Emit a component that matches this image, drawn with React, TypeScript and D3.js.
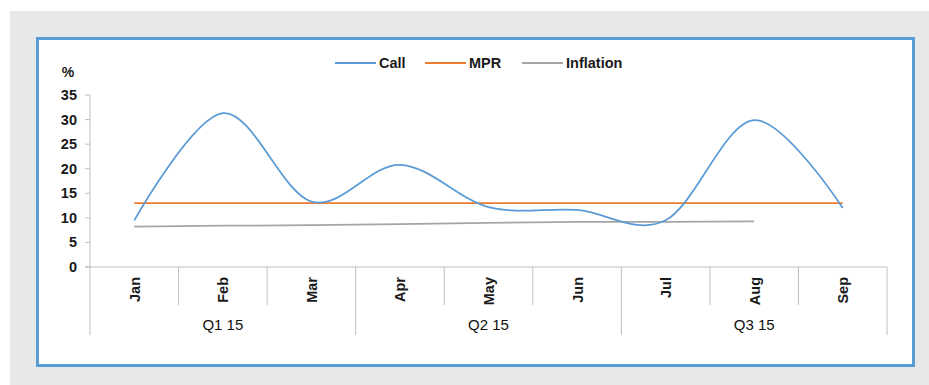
import React from "react";
import * as d3 from "d3";

const months = ["Jan", "Feb", "Mar", "Apr", "May", "Jun", "Jul", "Aug", "Sep"];
const quarters = ["Q1 15", "Q2 15", "Q3 15"];
const callRate = [9.5, 31.3, 13.3, 20.8, 12.2, 11.6, 9.5, 29.9, 12.0];
const mpr = [13, 13, 13, 13, 13, 13, 13, 13, 13];
const inflation = [8.2, 8.4, 8.5, 8.7, 9.0, 9.2, 9.2, 9.3];
const yTicks = [0, 5, 10, 15, 20, 25, 30, 35];
const seriesNames = ["Call", "MPR", "Inflation"];
const seriesColors = ["#5b9bd5", "#ed7d31", "#a5a5a5"];

export default function App() {
  const W = 929, H = 385;
  const x = d3.scaleBand<string>().domain(months).range([90, 887]);
  const y = d3.scaleLinear().domain([0, 35]).range([267, 95]);
  const cx = (i: number) => (x(months[i]) as number) + x.bandwidth() / 2;

  const smooth = d3
    .line<number>()
    .x((_, i) => cx(i))
    .y((d) => y(d))
    .curve(d3.curveCardinal.tension(0));
  const straight = d3
    .line<number>()
    .x((_, i) => cx(i))
    .y((d) => y(d));

  const font = "'Liberation Sans', Arial, sans-serif";
  const axisColor = "#bfbfbf";
  const bw = x.bandwidth();

  const legendItems = [
    { name: seriesNames[0], color: seriesColors[0], x0: 335 },
    { name: seriesNames[1], color: seriesColors[1], x0: 425 },
    { name: seriesNames[2], color: seriesColors[2], x0: 522 },
  ];

  return (
    <svg
      width={W}
      height={H}
      style={{ position: "absolute", left: 0, top: 0 }}
      fontFamily={font}
    >
      <rect x={0} y={0} width={W} height={H} fill="#ffffff" />
      <rect x={10} y={11} width={W - 10} height={H - 11} fill="#e7e8ea" />
      <rect x={37.5} y={38.5} width={876} height={327} fill="#ffffff" stroke="#5b9bd5" strokeWidth={3} />

      {/* legend */}
      {legendItems.map((l) => (
        <g key={l.name}>
          <line x1={l.x0} x2={l.x0 + 41} y1={63} y2={63} stroke={l.color} strokeWidth={2} />
          <text x={l.x0 + 44} y={68} fontSize={14.5} fontWeight="bold" fill="#1a1a1a">
            {l.name}
          </text>
        </g>
      ))}

      {/* y axis */}
      <text x={68} y={77} fontSize={14} fontWeight="bold" fill="#1a1a1a" textAnchor="middle">%</text>
      <line x1={90} x2={90} y1={y(35)} y2={y(0)} stroke={axisColor} />
      {yTicks.map((t) => (
        <g key={t}>
          <line x1={85} x2={90} y1={y(t)} y2={y(t)} stroke={axisColor} />
          <text x={77} y={y(t) + 5} fontSize={14.5} fontWeight="bold" fill="#1a1a1a" textAnchor="end">
            {t}
          </text>
        </g>
      ))}

      {/* x axis */}
      <line x1={85} x2={887} y1={y(0)} y2={y(0)} stroke={axisColor} />
      {months.map((m, i) => {
        const left = x(m) as number;
        const isGroup = i % 3 === 0;
        return (
          <g key={m}>
            <line x1={left} x2={left} y1={y(0)} y2={isGroup ? 335 : 305} stroke={axisColor} />
            <text
              transform={`translate(${cx(i) + 5.5},277) rotate(-90)`}
              fontSize={14.5}
              fontWeight="bold"
              fill="#1a1a1a"
              textAnchor="end"
            >
              {m}
            </text>
          </g>
        );
      })}
      <line x1={887} x2={887} y1={y(0)} y2={335} stroke={axisColor} />
      {quarters.map((q, i) => (
        <text
          key={q}
          x={90 + bw * (i * 3 + 1.5)}
          y={330}
          fontSize={15}
          fill="#111111"
          textAnchor="middle"
        >
          {q}
        </text>
      ))}

      {/* series */}
      <path d={straight(inflation) as string} fill="none" stroke={seriesColors[2]} strokeWidth={1.75} />
      <path d={straight(mpr) as string} fill="none" stroke={seriesColors[1]} strokeWidth={1.75} />
      <path d={smooth(callRate) as string} fill="none" stroke={seriesColors[0]} strokeWidth={1.75} />
    </svg>
  );
}
